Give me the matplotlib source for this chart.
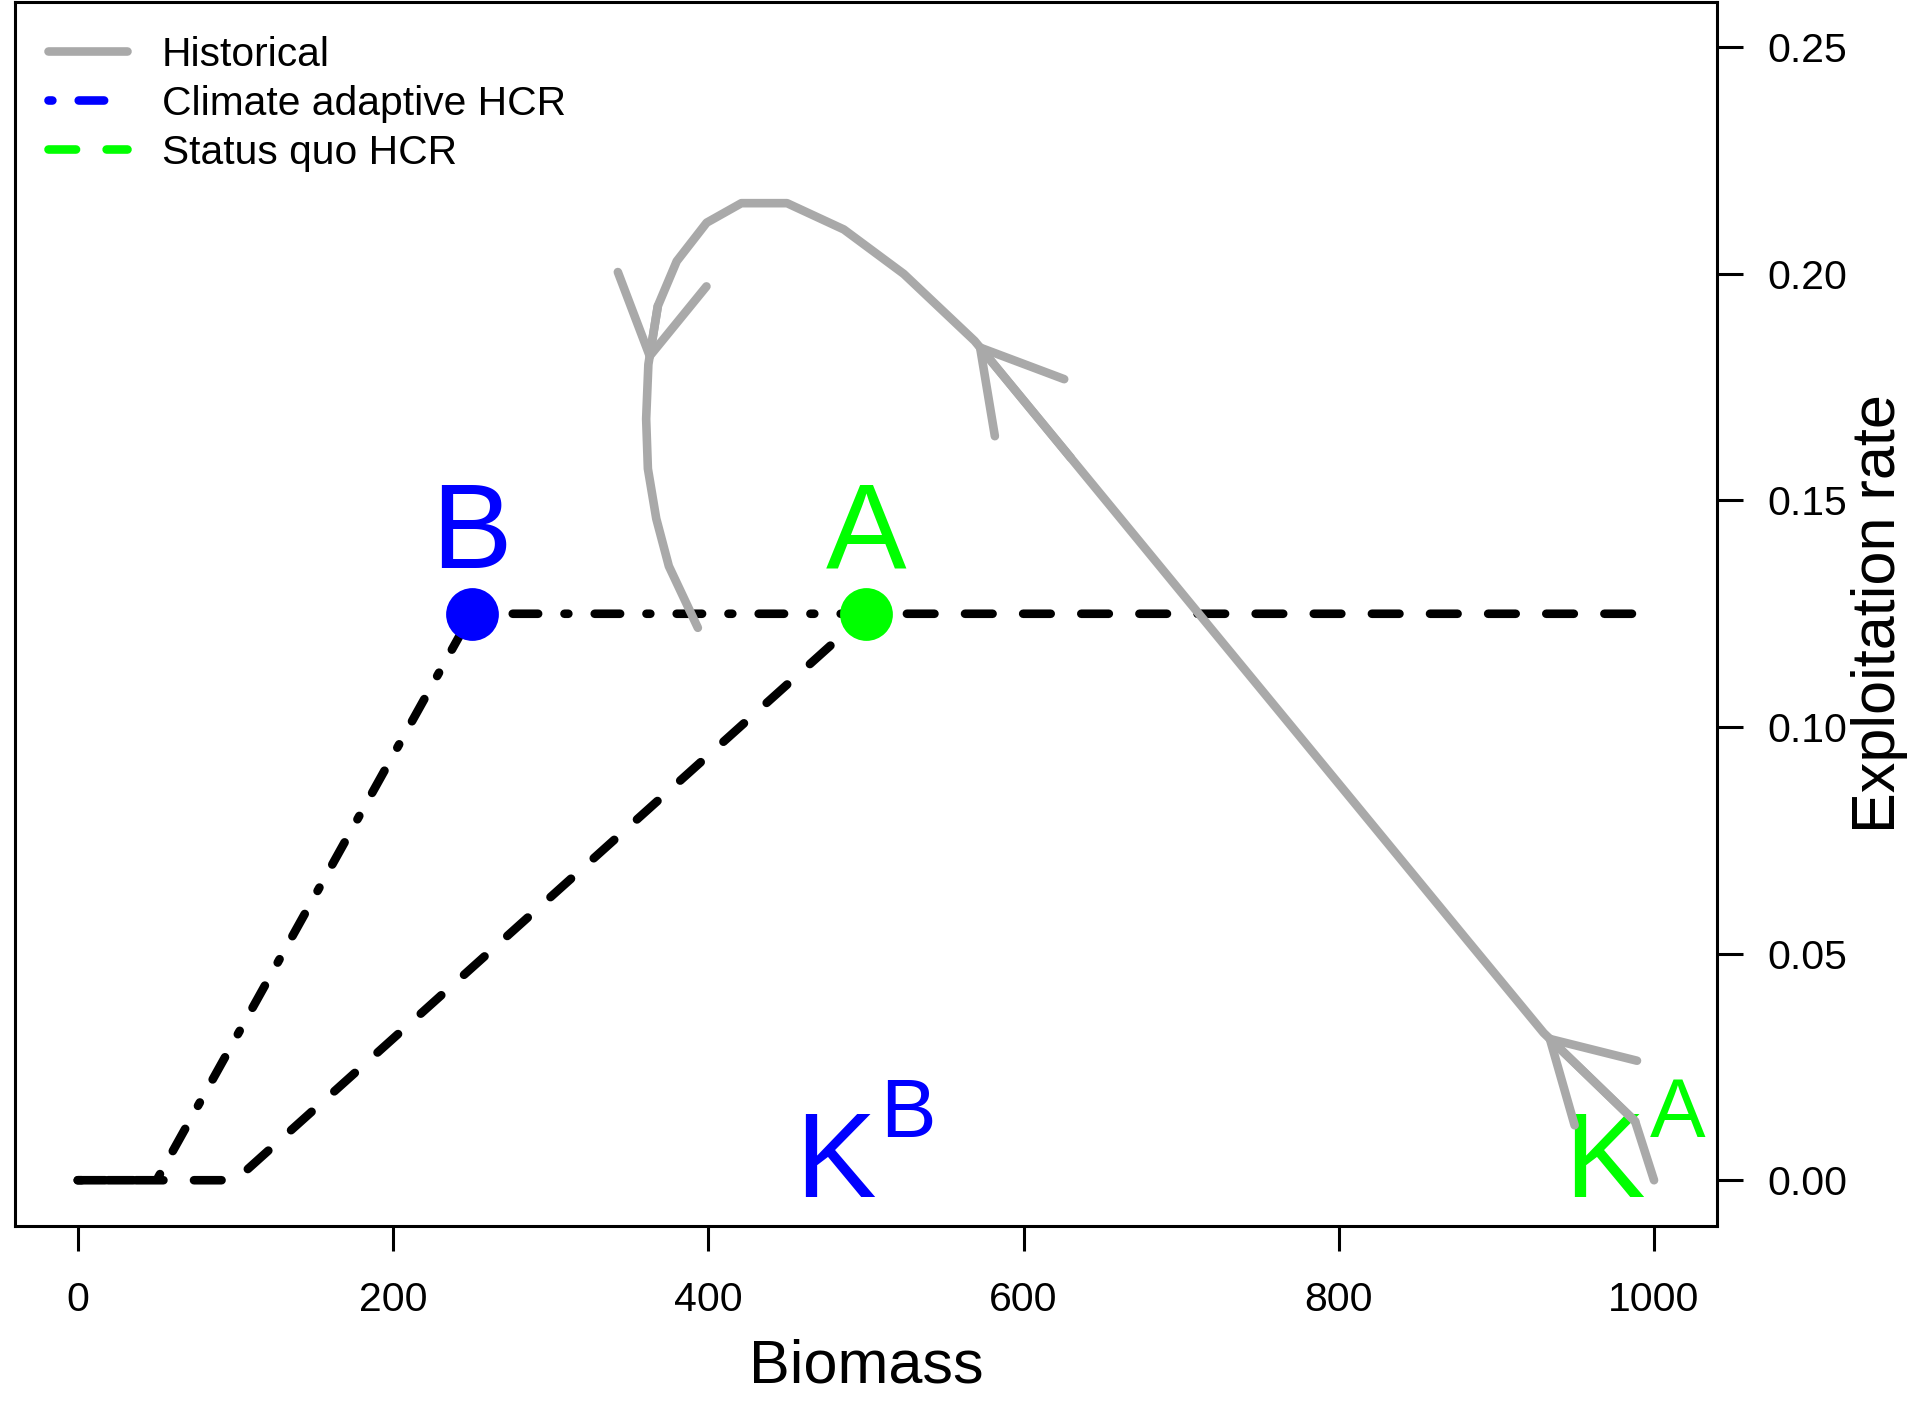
import matplotlib
matplotlib.use("Agg")
import matplotlib.pyplot as plt
from matplotlib.lines import Line2D

plt.rcParams['font.family'] = ['Liberation Sans', 'DejaVu Sans']
plt.rcParams['mathtext.fontset'] = 'custom'
plt.rcParams['mathtext.rm'] = 'Liberation Sans'
plt.rcParams['mathtext.default'] = 'regular'

# ---------------- data ----------------
biomass_ticks = [0, 200, 400, 600, 800, 1000]
rate_ticks = [0.00, 0.05, 0.10, 0.15, 0.20, 0.25]

# historical trajectory (biomass, exploitation rate)
hist_x = [1000, 988, 930, 880, 812, 711, 630, 569, 524, 486, 450, 421, 399, 380,
          368, 362, 360.6, 361.7, 367, 375, 393.4]
hist_y = [0.000, 0.013, 0.0325, 0.0536, 0.0824, 0.1251, 0.1594, 0.1852, 0.200, 0.2098,
          0.2156, 0.2156, 0.2113, 0.2028, 0.1929, 0.180, 0.168, 0.157, 0.146, 0.1355, 0.1219]
arrow_segments = [(1, 2), (6, 7), (14, 15)]

# harvest control rules
adaptive_x = [0, 50, 250, 500]
adaptive_y = [0.0, 0.0, 0.125, 0.125]
statusquo_x = [0, 100, 500, 1000]
statusquo_y = [0.0, 0.0, 0.125, 0.125]

point_B = (250, 0.125)
point_A = (500, 0.125)
K_B = 500
K_A = 988
K_label_y = -0.0036

legend_labels = ["Historical", "Climate adaptive HCR", "Status quo HCR"]

# ---------------- styles ----------------
GRAY = '#A9A9A9'
BLUE = '#0000FF'
GREEN = '#00FF00'
LW = 6.2
DASH = (3.2, 3.55)
DASHDOT = (0.45, 3.06, 2.95, 3.06)

fig = plt.figure(figsize=(19.21, 14.04), dpi=100)
ax = fig.add_axes([0.00765, 0.1271, 0.8862, 0.8715])

ax.plot(adaptive_x, adaptive_y, color='black', lw=LW, dashes=DASHDOT,
        dash_capstyle='round', solid_capstyle='round', zorder=2)
ax.plot(statusquo_x, statusquo_y, color='black', lw=LW, dashes=DASH,
        dash_capstyle='round', solid_capstyle='round', zorder=2)

ax.plot([point_B[0]], [point_B[1]], 'o', color=BLUE, ms=38, mew=0, zorder=3)
ax.plot([point_A[0]], [point_A[1]], 'o', color=GREEN, ms=38, mew=0, zorder=3)

ax.plot(hist_x, hist_y, color=GRAY, lw=LW, solid_capstyle='round',
        solid_joinstyle='round', zorder=4)
for i0, i1 in arrow_segments:
    ax.annotate('', xy=(hist_x[i1], hist_y[i1]), xytext=(hist_x[i0], hist_y[i0]),
                arrowprops=dict(arrowstyle='->,head_length=1,head_width=0.577',
                                mutation_scale=56, lw=LW, color=GRAY,
                                shrinkA=0, shrinkB=0, capstyle='round',
                                joinstyle='round'),
                zorder=4)

ax.annotate('B', xy=point_B, xytext=(0, 33), textcoords='offset points',
            ha='center', va='baseline', fontsize=87, color=BLUE)
ax.annotate('A', xy=point_A, xytext=(0, 33), textcoords='offset points',
            ha='center', va='baseline', fontsize=87, color=GREEN)

for kx, sup, col in [(K_B, 'B', BLUE), (K_A, 'A', GREEN)]:
    ax.annotate('K', xy=(kx, K_label_y), xytext=(7.2, 0), textcoords='offset points',
                ha='right', va='baseline', fontsize=87, color=col)
    ax.annotate(sup, xy=(kx, K_label_y), xytext=(10.5, 43), textcoords='offset points',
                ha='left', va='baseline', fontsize=60, color=col)

ax.set_xlim(-40, 1040)
ax.set_ylim(-0.01, 0.26)
ax.set_xticks(biomass_ticks)
ax.set_xticklabels([str(t) for t in biomass_ticks])
ax.set_yticks(rate_ticks)
ax.set_yticklabels([f"{t:.2f}" for t in rate_ticks])
ax.yaxis.tick_right()
ax.yaxis.set_label_position('right')
ax.tick_params(axis='y', left=False, right=True, direction='out', length=18.7,
               width=2.2, pad=17.3, labelsize=29.5)
ax.tick_params(axis='x', direction='out', length=18, width=2.2, pad=22,
               labelsize=29.5)
for s in ax.spines.values():
    s.set_linewidth(2.2)

ax.set_xlabel('Biomass', fontsize=44, labelpad=14)
ax.set_ylabel('Exploitation rate', fontsize=44, labelpad=3)

handles = [
    Line2D([], [], color=GRAY, lw=LW, solid_capstyle='round'),
    Line2D([], [], color=BLUE, lw=LW, dashes=DASHDOT, dash_capstyle='round'),
    Line2D([], [], color=GREEN, lw=LW, dashes=DASH, dash_capstyle='round'),
]
ax.legend(handles, legend_labels, loc='upper left', frameon=False, fontsize=29.3,
          handlelength=1.92, handletextpad=0.87, borderaxespad=0.45,
          borderpad=0.38, labelspacing=0.27)

fig.savefig('out.png', dpi=100)
